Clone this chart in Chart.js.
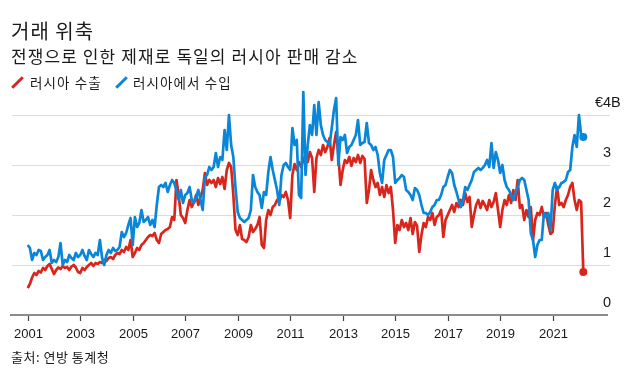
<!DOCTYPE html>
<html>
<head>
<meta charset="utf-8">
<script src="https://cdn.jsdelivr.net/npm/chart.js@4.4.1/dist/chart.umd.min.js"></script>
<style>
  html, body { margin: 0; padding: 0; background: #fff; }
  #wrap { position: relative; width: 630px; height: 378px; overflow: hidden; font-family: "Liberation Sans", "Noto Sans CJK KR", sans-serif; color: #1a1a1a; }
  #chart { position: absolute; left: 0; top: 0; }
  .txt { position: absolute; white-space: nowrap; font-family: "Noto Sans CJK KR", sans-serif; }
  #title { left: 11px; top: 21px; font-size: 20px; line-height: 20px; letter-spacing: 1px; }
  #subtitle { left: 11px; top: 47px; font-size: 17px; line-height: 17px; letter-spacing: 1.1px; }
  .leg { top: 75px; font-size: 13.5px; line-height: 14px; letter-spacing: 1.1px; }
  .key { position: absolute; top: 81px; width: 15px; height: 3px; transform: rotate(-45deg); }
  #source { left: 11px; top: 350px; font-size: 13px; line-height: 13px; letter-spacing: 0.5px; }
</style>
</head>
<body>
<div id="wrap">
  <canvas id="chart" width="630" height="378"></canvas>
  <div class="txt" id="title">거래 위축</div>
  <div class="txt" id="subtitle">전쟁으로 인한 제재로 독일의 러시아 판매 감소</div>
  <div class="key" style="left:10px; background:#d8261d"></div>
  <div class="txt leg" style="left:30px">러시아 수출</div>
  <div class="key" style="left:114px; background:#0a86d8"></div>
  <div class="txt leg" style="left:133px">러시아에서 수입</div>
  <div class="txt" id="source">출처: 연방 통계청</div>
</div>
<script>
// monthly values, Jan 2001 - Mar 2022, billion euro
const exportsToRussia = [
  0.54, 0.62, 0.75, 0.84, 0.80, 0.88, 0.85, 0.94, 0.90, 0.98, 1.02, 0.92, // 2001
  0.82, 0.90, 0.95, 0.92, 0.98, 0.94, 0.96, 0.90, 0.97, 1.00, 0.95, 0.86, // 2002
  0.84, 0.94, 0.90, 0.96, 1.00, 1.04, 0.98, 1.04, 1.02, 1.06, 1.04, 1.10, // 2003
  1.08, 1.14, 1.16, 1.12, 1.20, 1.24, 1.22, 1.30, 1.26, 1.36, 1.30, 1.50, // 2004
  1.16, 1.24, 1.34, 1.30, 1.40, 1.44, 1.50, 1.56, 1.60, 1.58, 1.64, 1.50, // 2005
  1.44, 1.62, 1.66, 1.70, 1.72, 1.76, 1.96, 1.90, 2.70, 2.40, 2.00, 1.94, // 2006
  1.84, 2.10, 2.30, 2.16, 2.26, 2.40, 2.20, 2.36, 2.50, 2.84, 2.60, 2.70, // 2007
  2.64, 2.70, 2.56, 2.74, 2.62, 2.76, 2.52, 2.90, 3.04, 2.96, 2.40, 1.70, // 2008
  1.60, 1.80, 1.52, 1.50, 1.46, 1.56, 1.80, 1.66, 1.72, 1.80, 1.96, 1.40, // 2009
  1.34, 1.90, 2.10, 2.00, 2.16, 2.20, 2.30, 2.26, 2.40, 2.36, 2.46, 2.30, // 2010
  1.94, 2.80, 3.02, 2.90, 3.06, 2.96, 3.10, 3.20, 3.06, 3.26, 3.14, 2.46, // 2011
  3.14, 3.30, 3.20, 3.40, 3.26, 3.36, 3.54, 3.10, 3.40, 3.66, 3.20, 2.60, // 2012
  2.90, 3.10, 3.04, 3.16, 2.98, 3.14, 3.06, 3.20, 3.04, 3.18, 3.12, 2.24, // 2013
  2.50, 2.90, 2.70, 2.56, 2.64, 2.40, 2.56, 2.36, 2.60, 2.44, 2.56, 2.10, // 2014
  1.44, 1.80, 1.70, 1.90, 1.76, 1.84, 1.70, 1.94, 1.62, 1.86, 1.78, 1.26, // 2015
  1.60, 1.84, 1.76, 1.96, 1.90, 2.04, 1.80, 1.96, 2.00, 2.10, 1.56, 1.90, // 2016
  2.00, 2.10, 2.20, 2.06, 2.24, 2.16, 2.30, 2.20, 2.44, 2.26, 2.36, 1.76, // 2017
  2.00, 2.20, 2.30, 2.14, 2.28, 2.20, 2.10, 2.30, 2.16, 2.26, 2.44, 2.10, // 2018
  1.76, 2.10, 2.30, 2.20, 2.40, 2.24, 2.50, 2.30, 2.70, 2.14, 2.20, 1.90, // 2019
  2.10, 1.96, 2.16, 1.50, 1.90, 2.04, 2.00, 2.16, 1.96, 2.04, 1.80, 1.62, // 2020
  1.66, 2.20, 2.56, 2.20, 2.24, 2.16, 2.30, 2.40, 2.56, 2.64, 2.30, 2.10, // 2021
  2.30, 2.26, 0.86                                                        // 2022
];
const importsFromRussia = [
  1.40, 1.34, 1.10, 1.24, 1.20, 1.30, 1.28, 1.10, 1.16, 1.20, 1.30, 1.04, // 2001
  1.10, 1.06, 1.16, 1.44, 1.00, 1.10, 1.06, 1.20, 1.14, 1.10, 1.24, 1.16, // 2002
  1.20, 1.30, 1.18, 1.10, 1.30, 1.22, 1.16, 1.24, 1.20, 1.50, 1.14, 1.00, // 2003
  1.20, 1.30, 1.24, 1.34, 1.28, 1.30, 1.36, 1.66, 1.56, 1.64, 1.80, 1.94, // 2004
  1.40, 1.96, 1.76, 1.84, 2.10, 1.86, 1.90, 1.96, 1.80, 1.90, 1.76, 2.20, // 2005
  2.56, 2.60, 2.56, 2.64, 2.46, 2.60, 2.70, 2.64, 2.50, 2.30, 2.50, 2.24, // 2006
  2.40, 2.44, 2.56, 2.30, 2.24, 2.36, 2.50, 2.30, 2.10, 2.76, 2.80, 2.96, // 2007
  2.90, 2.96, 3.24, 2.96, 3.16, 3.10, 3.70, 3.30, 4.00, 3.40, 3.16, 2.54, // 2008
  2.06, 1.94, 1.90, 1.86, 1.90, 1.94, 2.10, 2.80, 2.56, 2.46, 2.40, 2.14, // 2009
  2.46, 2.40, 2.86, 3.16, 2.90, 2.70, 2.50, 2.20, 2.80, 3.00, 3.04, 2.96, // 2010
  2.90, 3.74, 3.40, 3.50, 2.40, 2.34, 4.46, 2.80, 3.40, 3.80, 3.60, 4.20, // 2011
  3.60, 4.26, 3.80, 3.60, 3.50, 3.46, 3.40, 3.74, 4.10, 4.34, 3.00, 3.56, // 2012
  3.50, 3.60, 3.24, 3.36, 3.40, 3.50, 3.60, 3.90, 3.40, 3.44, 3.46, 3.84, // 2013
  3.44, 3.40, 3.30, 3.36, 3.20, 2.84, 2.64, 3.10, 3.20, 3.30, 3.30, 3.16, // 2014
  2.64, 2.70, 2.74, 2.80, 2.76, 2.50, 2.46, 2.40, 2.30, 2.54, 2.50, 2.40, // 2015
  2.20, 2.04, 2.04, 2.00, 2.06, 2.16, 2.20, 2.30, 2.30, 2.40, 2.56, 2.60, // 2016
  2.76, 2.90, 2.84, 2.60, 2.46, 2.30, 2.16, 2.30, 2.56, 2.50, 2.60, 2.70, // 2017
  2.86, 2.90, 2.94, 2.90, 2.94, 3.00, 3.10, 2.96, 3.44, 2.94, 3.26, 3.10, // 2018
  2.84, 3.00, 2.70, 2.56, 2.50, 2.40, 2.30, 2.44, 2.56, 2.70, 2.74, 2.70, // 2019
  2.50, 2.30, 1.64, 1.50, 1.16, 1.40, 1.50, 1.50, 2.04, 1.96, 2.04, 1.70, // 2020
  2.50, 2.64, 2.50, 2.56, 2.64, 2.66, 2.70, 2.86, 2.90, 3.36, 3.60, 3.36, // 2021
  4.00, 3.60, 3.56                                                        // 2022
];
const firstYear = 2001;
const yearTicks = [2001, 2003, 2005, 2007, 2009, 2011, 2013, 2015, 2017, 2019, 2021];
const valueTicks = [0, 1, 2, 3, 4];

const RED = '#d8261d';
const BLUE = '#0a86d8';

// x = months since Jan 2001
function toPoints(arr) {
  return arr.map((v, i) => ({ x: i, y: v }));
}
const monthOf = (year) => (year - firstYear) * 12;

const axisPlugin = {
  id: 'axisPlugin',
  beforeDatasetsDraw(chart) {
    const { ctx, chartArea, scales } = chart;
    const xs = scales.x, ys = scales.y;
    ctx.save();
    // gridlines
    ctx.strokeStyle = '#dcdcdc';
    ctx.lineWidth = 1;
    valueTicks.forEach(v => {
      if (v === 0) return;
      const y = Math.round(ys.getPixelForValue(v)) + 0.5;
      ctx.beginPath();
      ctx.moveTo(chartArea.left + 2, y);
      ctx.lineTo(chartArea.right, y);
      ctx.stroke();
    });
    // base axis
    const y0 = ys.getPixelForValue(0);
    ctx.strokeStyle = '#8c8c8c';
    ctx.lineWidth = 2;
    ctx.beginPath();
    ctx.moveTo(chartArea.left, y0);
    ctx.lineTo(chartArea.right - 2, y0);
    ctx.stroke();
    // year ticks + labels
    ctx.strokeStyle = '#444';
    ctx.lineWidth = 1.2;
    ctx.fillStyle = '#1a1a1a';
    ctx.font = '13px "Liberation Sans", Arial, sans-serif';
    ctx.textAlign = 'center';
    ctx.textBaseline = 'alphabetic';
    yearTicks.forEach(yr => {
      const x = Math.round(xs.getPixelForValue(monthOf(yr))) + 0.5;
      ctx.beginPath();
      ctx.moveTo(x, y0 + 1);
      ctx.lineTo(x, y0 + 6);
      ctx.stroke();
      ctx.fillText(String(yr), x, y0 + 23);
    });
    // value labels on the right
    ctx.font = '14.5px "Liberation Sans", Arial, sans-serif';
    ctx.textAlign = 'left';
    const lx = 603;
    valueTicks.forEach(v => {
      const y = ys.getPixelForValue(v) - 8;
      ctx.fillText(String(v), lx, y);
      if (v === valueTicks[valueTicks.length - 1]) {
        const dw = ctx.measureText(String(v)).width;
        ctx.fillText('B', lx + dw, y);
        ctx.textAlign = 'right';
        ctx.fillText('€', lx, y);
        ctx.textAlign = 'left';
      }
    });
    ctx.restore();
  }
};

function lastDot(arr) {
  return (c) => (c.dataIndex === arr.length - 1 ? 4 : 0);
}

new Chart(document.getElementById('chart'), {
  type: 'line',
  data: {
    datasets: [
      {
        label: '러시아에서 수입',
        data: toPoints(importsFromRussia),
        borderColor: BLUE,
        backgroundColor: BLUE,
        borderWidth: 2.7,
        pointRadius: lastDot(importsFromRussia),
        pointBorderWidth: 0,
        tension: 0,
        borderJoinStyle: 'round'
      },
      {
        label: '러시아 수출',
        data: toPoints(exportsToRussia),
        borderColor: RED,
        backgroundColor: RED,
        borderWidth: 2.7,
        pointRadius: lastDot(exportsToRussia),
        pointBorderWidth: 0,
        tension: 0,
        borderJoinStyle: 'round'
      }
    ]
  },
  options: {
    responsive: false,
    animation: false,
    clip: false,
    layout: { padding: { left: 10, right: 20, top: 85, bottom: 63 } },
    plugins: { legend: { display: false }, tooltip: { enabled: false } },
    scales: {
      x: { type: 'linear', min: -8.1, max: 266.2, display: false },
      y: { min: 0, max: 4.6, display: false }
    }
  },
  plugins: [axisPlugin]
});
</script>
</body>
</html>
